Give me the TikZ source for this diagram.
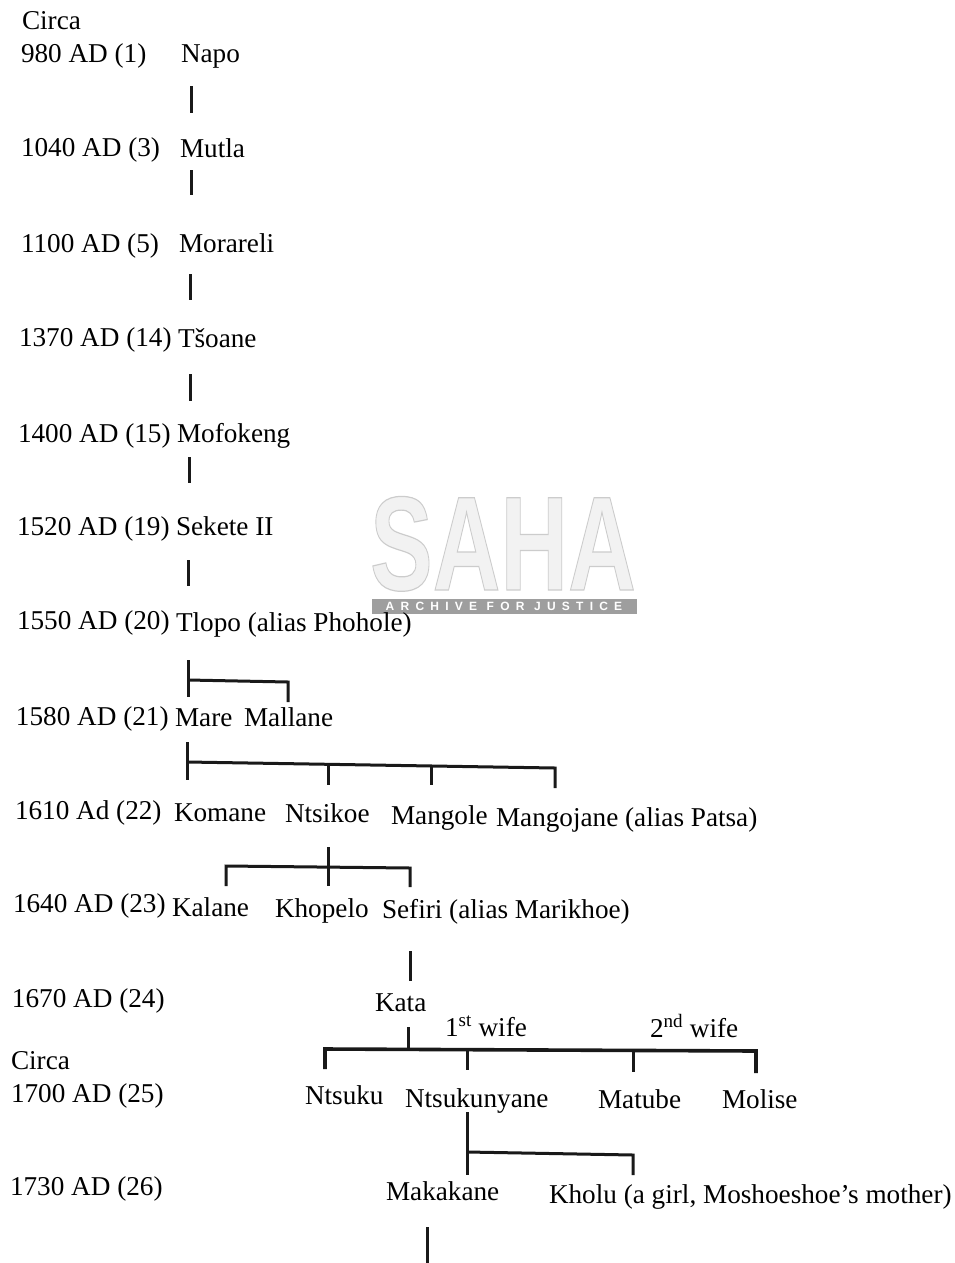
\documentclass[tikz,border=0pt]{standalone}
\usepackage{fontspec}
\setmainfont{Liberation Serif}
\newfontfamily\wmfont{Liberation Sans}
\newfontfamily\wmspaced[LetterSpace=52]{Liberation Sans}
\tikzset{
  lab/.style={anchor=base west,inner sep=0pt,outer sep=0pt,font=\fontsize{27.2}{30}\selectfont},
  rule/.style={line width=3pt,black!90,line cap=butt,line join=miter},
  thinrule/.style={line width=3pt,black!90,line cap=butt,line join=miter}
}
\begin{document}
\begin{tikzpicture}[x=1pt,y=-1pt]
\useasboundingbox (0,0) rectangle (955,1263);
\fill[white] (0,0) rectangle (955,1263);
% watermark
\node[transform shape,xscale=.70,inner sep=0pt,anchor=base,text=black!5,font=\fontsize{134}{134}\selectfont\wmfont\bfseries] (saha) at (503,590) {\special{pdf:code 0.80 G 1.2 w 2 Tr}SAHA\special{pdf:code 0 Tr}};
\node[fill=black!38,minimum width=265pt,minimum height=15pt,inner sep=0pt,anchor=center] (bar) at (504,606.5) {};
\node[inner sep=0pt,text=white,font=\fontsize{12}{12}\selectfont\wmspaced\bfseries] (archive) at (504,606.5) {ARCHIVE FOR JUSTICE};
% dates
\node[lab] (c1) at (22,30) {Circa};
\node[lab] (d1) at (21,63) {980 AD (1)};
\node[lab] (d3) at (21,156) {1040 AD (3)};
\node[lab] (d5) at (21,252) {1100 AD (5)};
\node[lab] (d14) at (19,346) {1370 AD (14)};
\node[lab] (d15) at (18,442) {1400 AD (15)};
\node[lab] (d19) at (17,535) {1520 AD (19)};
\node[lab] (d20) at (17,629) {1550 AD (20)};
\node[lab] (d21) at (16,725) {1580 AD (21)};
\node[lab] (d22) at (15,819) {1610 Ad (22)};
\node[lab] (d23) at (13,912) {1640 AD (23)};
\node[lab] (d24) at (12,1007) {1670 AD (24)};
\node[lab] (c2) at (11,1069) {Circa};
\node[lab] (d25) at (11,1102) {1700 AD (25)};
\node[lab] (d26) at (10,1195) {1730 AD (26)};
% names
\node[lab] (napo) at (181,63) {Napo};
\node[lab] (mutla) at (180,157) {Mutla};
\node[lab] (morareli) at (179,252) {Morareli};
\node[lab] (tsoane) at (178,347) {Tšoane};
\node[lab] (mofokeng) at (177,442) {Mofokeng};
\node[lab] (sekete) at (176,535) {Sekete II};
\node[lab] (tlopo) at (176,631) {Tlopo (alias Phohole)};
\node[lab] (mare) at (175,726) {Mare};
\node[lab] (mallane) at (244,726) {Mallane};
\node[lab] (komane) at (174,821) {Komane};
\node[lab] (ntsikoe) at (285,822) {Ntsikoe};
\node[lab] (mangole) at (391,824) {Mangole};
\node[lab] (mangojane) at (496,826) {Mangojane (alias Patsa)};
\node[lab] (kalane) at (172,916) {Kalane};
\node[lab] (khopelo) at (275,917) {Khopelo};
\node[lab] (sefiri) at (382,918) {Sefiri (alias Marikhoe)};
\node[lab] (kata) at (375,1011) {Kata};
\node[lab] (w1) at (445,1036) {1\textsuperscript{st} wife};
\node[lab] (w2) at (650,1037) {2\textsuperscript{nd} wife};
\node[lab] (ntsuku) at (305,1104) {Ntsuku};
\node[lab] (ntsukunyane) at (405,1107) {Ntsukunyane};
\node[lab] (matube) at (598,1108) {Matube};
\node[lab] (molise) at (722,1108) {Molise};
\node[lab] (makakane) at (386,1200) {Makakane};
\node[lab] (kholu) at (549,1203) {Kholu (a girl, Moshoeshoe's mother)};
% junction coordinates
\coordinate (a1) at (191,86);  \coordinate (a2) at (191,113);
\coordinate (b1) at (191,170); \coordinate (b2) at (191,195);
\coordinate (e1) at (190,274); \coordinate (e2) at (190,300);
\coordinate (f1) at (190,374); \coordinate (f2) at (190,401);
\coordinate (g1) at (189,457); \coordinate (g2) at (189,483);
\coordinate (h1) at (188,560); \coordinate (h2) at (188,586);
\coordinate (i1) at (188,660); \coordinate (i2) at (188,697);
\coordinate (i3) at (188,680); \coordinate (i4) at (288,682); \coordinate (i5) at (288,702);
\coordinate (j1) at (187,742); \coordinate (j2) at (187,780);
\coordinate (j3) at (187,762); \coordinate (j4) at (555,768); \coordinate (j5) at (555,788);
\coordinate (j6) at (328,765); \coordinate (j7) at (328,785);
\coordinate (j8) at (431,766); \coordinate (j9) at (431,785);
\coordinate (k1) at (328,847); \coordinate (k2) at (328,886);
\coordinate (k3) at (226,886); \coordinate (k4) at (226,866); \coordinate (k5) at (410,868); \coordinate (k6) at (410,887);
\coordinate (l1) at (410,951); \coordinate (l2) at (410,981);
\coordinate (m1) at (408,1027); \coordinate (m2) at (408,1049);
\coordinate (m3) at (325,1069); \coordinate (m4) at (325,1049); \coordinate (m5) at (756,1051); \coordinate (m6) at (756,1073);
\coordinate (m7) at (467,1051); \coordinate (m8) at (467,1070);
\coordinate (m9) at (633,1052); \coordinate (m10) at (633,1072);
\coordinate (n1) at (467,1112); \coordinate (n2) at (467,1175);
\coordinate (n3) at (467,1152); \coordinate (n4) at (633,1155); \coordinate (n5) at (633,1175);
\coordinate (o1) at (427,1227); \coordinate (o2) at (427,1263);
% connectors
\draw[rule] (a1) -- (a2);
\draw[rule] (b1) -- (b2);
\draw[rule] (e1) -- (e2);
\draw[rule] (f1) -- (f2);
\draw[rule] (g1) -- (g2);
\draw[rule] (h1) -- (h2);
\draw[rule] (i1) -- (i2);
\draw[thinrule] (i3) -- (i4) -- (i5);
\draw[rule] (j1) -- (j2);
\draw[thinrule] (j3) -- (j4) -- (j5);
\draw[thinrule] (j6) -- (j7);
\draw[thinrule] (j8) -- (j9);
\draw[thinrule] (k1) -- (k2);
\draw[thinrule] (k3) -- (k4) -- (k5) -- (k6);
\draw[rule] (l1) -- (l2);
\draw[rule] (m1) -- (m2);
\draw[line width=3.6pt,black!90] (m3) -- (m4) -- (m5) -- (m6);
\draw[thinrule] (m7) -- (m8);
\draw[thinrule] (m9) -- (m10);
\draw[rule] (n1) -- (n2);
\draw[thinrule] (n3) -- (n4) -- (n5);
\draw[rule] (o1) -- (o2);
\end{tikzpicture}
\end{document}
